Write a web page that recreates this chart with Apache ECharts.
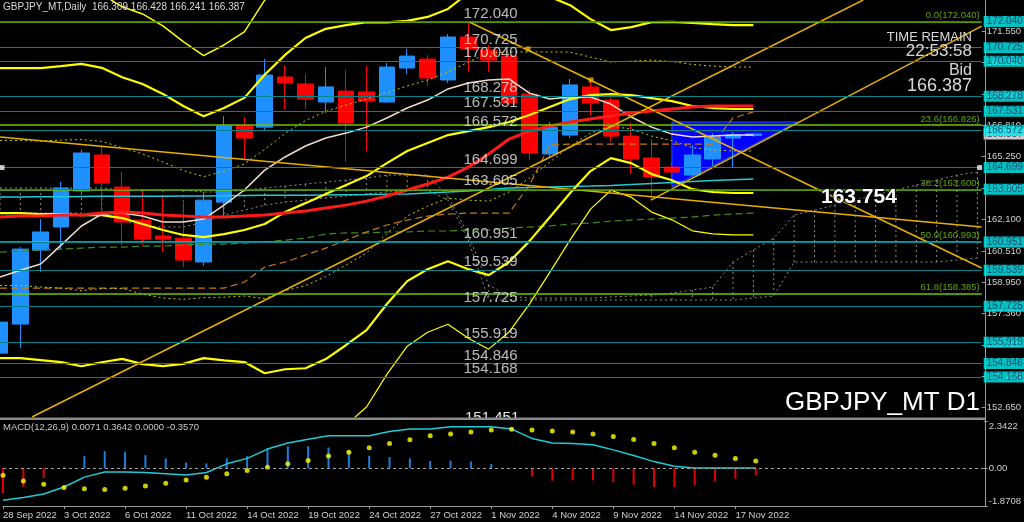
<!DOCTYPE html>
<html><head><meta charset="utf-8">
<script src="https://cdn.jsdelivr.net/npm/echarts@6/dist/echarts.min.js"></script>
<style>html,body{margin:0;padding:0;background:#000;overflow:hidden}#c{width:1024px;height:522px}</style>
</head><body><div id="c"></div>
<script>
const dates = ['28 Sep 2022','29 Sep 2022','30 Sep 2022','3 Oct 2022','4 Oct 2022','5 Oct 2022','6 Oct 2022','7 Oct 2022','10 Oct 2022','11 Oct 2022','12 Oct 2022','13 Oct 2022','14 Oct 2022','17 Oct 2022','18 Oct 2022','19 Oct 2022','20 Oct 2022','21 Oct 2022','24 Oct 2022','25 Oct 2022','26 Oct 2022','27 Oct 2022','28 Oct 2022','31 Oct 2022','1 Nov 2022','2 Nov 2022','3 Nov 2022','4 Nov 2022','7 Nov 2022','8 Nov 2022','9 Nov 2022','10 Nov 2022','11 Nov 2022','14 Nov 2022','15 Nov 2022','16 Nov 2022','17 Nov 2022','18 Nov 2022'];
const open  = [155.37,156.83,160.55,161.71,163.52,165.33,163.72,162.06,161.26,161.15,159.95,162.96,166.79,166.73,169.25,168.90,167.99,168.54,168.50,167.99,169.70,170.15,169.10,171.26,170.61,170.30,168.39,165.38,166.33,168.75,168.09,166.28,165.18,164.72,164.32,165.13,166.18,166.309];
const high  = [157.20,160.70,162.11,163.97,165.58,165.73,164.47,163.47,163.22,163.06,163.37,167.29,167.24,170.15,169.85,169.40,169.75,169.60,169.80,169.95,170.66,170.35,171.41,172.04,170.86,170.45,168.60,166.99,169.15,169.15,168.29,166.95,166.13,165.00,165.83,166.43,166.48,166.428];
const low   = [154.90,155.62,159.45,160.60,163.35,162.46,160.79,160.80,160.45,159.70,159.75,162.31,165.08,166.58,167.64,167.64,167.44,164.98,165.48,167.95,169.40,168.80,168.95,169.50,169.50,167.85,165.08,165.23,166.18,167.34,165.98,164.37,163.17,163.90,164.20,164.77,164.72,166.241];
const close = [156.93,160.60,161.46,163.67,165.43,163.92,161.96,161.10,161.10,160.05,163.06,166.79,166.18,169.35,168.95,168.14,168.75,166.94,168.04,169.75,170.30,169.20,171.26,170.66,170.10,167.94,165.43,166.73,168.85,167.94,166.28,165.13,164.22,164.47,165.33,166.23,166.33,166.387];

const maRed   = [162.21,162.26,162.26,162.31,162.31,162.41,162.46,162.41,162.31,162.26,162.21,162.21,162.26,162.31,162.41,162.51,162.66,162.81,163.01,163.27,163.57,163.87,164.22,164.72,165.38,166.13,166.53,166.79,166.99,167.14,167.29,167.44,167.54,167.64,167.74,167.79,167.79,167.79];
const maWhite = [159.19,159.54,159.85,160.80,161.76,162.36,162.41,162.26,161.96,161.96,162.11,162.81,163.57,164.57,165.23,165.78,166.18,166.43,166.73,167.19,167.69,168.09,168.65,168.95,169.10,169.15,168.44,168.14,168.24,168.24,167.89,167.24,166.73,166.38,166.23,166.28,166.33,166.33];
const maCyan  = [163.22,163.22,163.23,163.23,163.24,163.25,163.25,163.26,163.26,163.27,163.27,163.28,163.29,163.30,163.30,163.31,163.32,163.33,163.34,163.36,163.37,163.42,163.47,163.52,163.60,163.67,163.70,163.72,163.75,163.77,163.80,163.85,163.90,163.95,164.00,164.05,164.09,164.12];
const maGreen = [160.45,160.50,160.55,160.60,160.65,160.70,160.70,160.75,160.75,160.80,160.85,160.85,160.90,160.95,161.05,161.15,161.36,161.41,161.41,161.46,161.46,161.51,161.51,161.56,161.56,161.66,161.71,161.76,161.86,161.91,162.01,162.06,162.11,162.16,162.21,162.31,162.36,162.41];
const kijun   = [158.64,158.64,158.64,158.64,158.64,158.64,158.64,158.64,158.64,158.64,158.64,158.64,158.94,159.70,159.95,160.30,160.65,161.05,161.46,161.81,162.06,162.26,162.36,162.41,162.41,162.41,163.82,165.83,165.88,165.88,165.88,165.88,165.88,165.88,165.88,165.88,167.19,167.49];

const bbU3  = [173.35,173.35,173.37,173.52,173.71,173.41,172.78,172.42,171.82,171.03,170.32,170.86,171.52,173.11,174.31,175.36,175.82,175.88,175.88,175.54,175.34,175.44,175.84,176.94,177.89,177.55,176.85,176.05,175.22,174.07,173.22,173.47,173.92,174.01,174.06,174.02,173.97,173.97];
const bbU2  = [169.70,169.70,169.70,169.80,169.91,169.71,169.24,168.90,168.40,167.79,167.28,167.69,168.20,169.36,170.36,171.21,171.67,171.86,172.01,172.00,172.07,172.27,172.67,173.47,174.17,174.03,173.68,173.28,172.86,172.16,171.61,171.76,172.01,172.02,171.97,171.91,171.86,171.86];
const bbU1  = [166.06,166.06,166.03,166.08,166.11,166.01,165.70,165.38,164.98,164.55,164.24,164.52,164.88,165.61,166.41,167.06,167.52,167.84,168.14,168.46,168.80,169.10,169.50,170.00,170.45,170.51,170.51,170.51,170.50,170.25,170.00,170.05,170.10,170.03,169.88,169.80,169.75,169.75];
const bbMid = [162.41,162.41,162.36,162.36,162.31,162.31,162.16,161.86,161.56,161.31,161.20,161.35,161.56,161.86,162.46,162.91,163.37,163.82,164.27,164.92,165.53,165.93,166.33,166.53,166.73,166.99,167.34,167.74,168.14,168.34,168.39,168.34,168.19,168.04,167.79,167.69,167.64,167.64];
const bbL1  = [158.77,158.77,158.69,158.64,158.51,158.61,158.62,158.34,158.14,158.07,158.16,158.18,158.24,158.11,158.51,158.76,159.22,159.80,160.40,161.38,162.26,162.76,163.16,163.06,163.01,163.47,164.17,164.97,165.78,166.43,166.78,166.63,166.28,166.05,165.70,165.58,165.53,165.53];
const bbL2  = [155.12,155.12,155.02,154.92,154.71,154.91,155.08,154.82,154.72,154.83,155.12,155.01,154.92,154.36,154.56,154.61,155.07,155.78,156.53,157.84,158.99,159.59,159.99,159.59,159.29,159.95,161.00,162.20,163.42,164.52,165.17,164.92,164.37,164.06,163.61,163.47,163.42,163.42];
const bbL3  = [151.48,151.48,151.35,151.20,150.91,151.21,151.54,151.30,151.30,151.59,152.08,151.84,151.60,150.61,150.61,150.46,150.92,151.76,152.66,154.30,155.72,156.42,156.82,156.12,155.57,156.43,157.83,159.43,161.06,162.61,163.56,163.21,162.46,162.07,161.52,161.36,161.31,161.31];

const spanA = [163.67,163.67,163.67,163.67,163.67,163.67,163.57,163.57,163.57,163.57,163.47,163.47,163.57,163.67,163.77,163.87,163.97,164.07,164.17,164.32,164.32,164.32,163.27,161.31,158.79,158.24,158.14,158.14,158.14,158.14,158.19,158.24,158.29,158.39,158.54,158.69,159.95,160.55,161.15,162.31,162.56,162.81,163.06,163.32,163.57,163.82,164.07,164.32,164.47];
const spanB = [162.41,162.41,162.41,162.41,162.41,162.31,162.06,161.76,161.71,161.71,161.96,162.31,162.56,162.81,162.96,163.06,163.17,163.27,163.37,163.47,163.52,163.57,163.06,161.05,158.04,158.04,158.04,158.04,158.04,158.04,158.04,158.04,158.04,158.04,158.04,158.04,158.04,158.14,158.24,159.95,159.95,159.95,159.95,159.95,159.95,159.95,159.95,160.05,160.15];

const macdHist   = [-1.23,-0.93,-0.49,0.05,0.60,0.85,0.82,0.65,0.49,0.28,0.24,0.49,0.60,0.98,1.09,1.09,1.03,0.87,0.62,0.56,0.49,0.36,0.38,0.33,0.21,0.02,-0.41,-0.62,-0.60,-0.60,-0.69,-0.82,-0.93,-0.93,-0.85,-0.65,-0.52,-0.357];
const macdDots   = [-0.35,-0.63,-0.79,-0.96,-1.02,-1.05,-0.99,-0.88,-0.74,-0.58,-0.44,-0.27,-0.11,0.05,0.22,0.38,0.61,0.79,1.02,1.23,1.41,1.61,1.70,1.80,1.89,1.93,1.89,1.85,1.80,1.70,1.57,1.43,1.23,1.02,0.79,0.64,0.48,0.3642];
const macdLine   = [-1.58,-1.45,-1.28,-0.93,-0.44,-0.19,-0.19,-0.21,-0.27,-0.34,-0.21,0.22,0.49,0.95,1.25,1.44,1.61,1.61,1.61,1.82,1.94,1.94,2.06,2.06,2.06,1.94,1.48,1.25,1.23,1.17,0.91,0.63,0.33,0.10,0.01,0.01,0.01,0.0071];

const levelValues = [172.040,170.725,170.040,168.278,167.531,166.572,164.699,163.605,160.951,159.539,157.725,155.919,154.846,154.168];
const fibValues = [172.040,166.826,163.600,160.993,158.385];
const fibNames  = ['0.0','23.6','38.2','50.0','61.8'];
const priceTicks = [171.550,169.980,168.400,166.810,165.250,163.670,162.100,160.510,158.950,157.360,155.790,154.210,152.650];
const macdTicks = [-1.8708,0,2.3422];
const dateTicks = [0,3,6,9,12,15,18,21,24,27,30,33,36];
const bidPrice = 166.387;
const anchorLevel = 164.699;
const trendLines = [
  [[1.57,152.16],[42.39,173.12]],
  [[31.96,163.06],[48.21,171.81]],
  [[23,172.04],[48.21,159.65]],
  [[0,166.23],[48.21,161.71]]
];
const trendMarks = [[25.94,170.66],[29.03,169.10]];
const triangle = [[33.0,166.99],[39.16,166.99],[33.0,163.72]];

const X_MAX = 48.21;
const FONT = 'Liberation Sans, Arial, sans-serif';
const chart = echarts.init(document.getElementById('c'), null, {renderer:'canvas'});
const idx = a => a.map((v,i)=>[i,v]);
function lineS(data, color, width, type, z){
  return {type:'line', xAxisIndex:0, yAxisIndex:0, data: idx(data), showSymbol:false, symbol:'none', silent:true, z: z||4,
    lineStyle:{color, width, type: type||'solid'}, animation:false, clip:true};
}
const series = [];
series.push({type:'custom', xAxisIndex:0, yAxisIndex:0, z:1, silent:true, clip:true,
  data: spanA.map((a,i)=>[i,a,spanB[i]]),
  renderItem:(params, api)=>{
    const p1 = api.coord([api.value(0), api.value(1)]);
    const p2 = api.coord([api.value(0), api.value(2)]);
    if (Math.abs(p1[1]-p2[1]) < 4) return null;
    return {type:'line', shape:{x1:p1[0],y1:p1[1],x2:p2[0],y2:p2[1]}, style:{stroke:'#8c8c8c', lineWidth:1, lineDash:[2,3]}};
  }});
series.push(lineS(spanA,'#8c8c8c',1,[2,3],1));
series.push(lineS(spanB,'#8c8c8c',1,[2,3],1));
series.push({type:'custom', xAxisIndex:0, yAxisIndex:0, z:1, silent:true, data:[[0]],
  renderItem:(params, api)=>({type:'polygon', shape:{points: triangle.map(p=>api.coord(p))}, style:{fill:'#0000FF', stroke:'#3050FF', lineWidth:1}})});
series.push({type:'candlestick', xAxisIndex:0, yAxisIndex:0, z:3, silent:true, barWidth:16,
  data: open.map((o,i)=>[i,o,close[i],low[i],high[i]]), encode:{x:0, y:[1,2,3,4]},
  itemStyle:{color:'#1E90FF', color0:'#FF0000', borderColor:'#1E90FF', borderColor0:'#FF0000', borderWidth:1}, animation:false});
series.push(lineS(maGreen,'#3E8E1E',1.2,[7,4]));
series.push(lineS(kijun,'#C87814',1.2,[7,4]));
series.push(lineS(maCyan,'#1ECBD6',1.5));
series.push(lineS(bbU1,'#C8C800',1,[2,3]));
series.push(lineS(bbL1,'#C8C800',1,[2,3]));
series.push(lineS(bbU3,'#FFFF00',1.5));
series.push(lineS(bbL3,'#FFFF00',1.2));
series.push(lineS(bbU2,'#FFFF00',2.2));
series.push(lineS(bbL2,'#FFFF00',2.2));
series.push(lineS(bbMid,'#FFFF00',2.2));
series.push(lineS(maWhite,'#F0DCCB',1.5));
series.push(lineS(maRed,'#FF1A1A',3));
trendLines.forEach(t=>{
  series.push({type:'line', xAxisIndex:0, yAxisIndex:0, data:t, showSymbol:false, symbol:'none', silent:true, z:4, clip:true,
    lineStyle:{color:'#E6B000', width:1.5}, animation:false});
});
series.push({type:'scatter', xAxisIndex:0, yAxisIndex:0, data:trendMarks, symbol:'rect', symbolSize:5, itemStyle:{color:'#E6B000'}, z:5, silent:true});
series.push({type:'scatter', xAxisIndex:0, yAxisIndex:0, data:[[0.1,anchorLevel],[X_MAX-0.1,anchorLevel]], symbol:'rect', symbolSize:5, itemStyle:{color:'#E8F8FF'}, z:8, silent:true, clip:false});
series.push({type:'scatter', xAxisIndex:0, yAxisIndex:0, z:6, symbolSize:0, silent:true, clip:false,
  data: fibValues.map(v=>[X_MAX,v]),
  label:{show:true, position:'left', distance:2, offset:[0,-6], formatter:p=>fibNames[p.dataIndex]+'('+p.value[1].toFixed(3)+')', color:'#7CCB00', fontSize:9.5, fontFamily:FONT},
  markLine:{silent:true, symbol:['none','none'], label:{show:false}, animation:false, lineStyle:{color:'#6EC400', width:1.5, type:'solid'}, data: fibValues.map(v=>({yAxis:v}))}});
series.push({type:'scatter', xAxisIndex:0, yAxisIndex:0, z:6, symbolSize:0, silent:true, clip:false,
  data: [[X_MAX,bidPrice]],
  label:{show:true, position:'right', distance:2, formatter:p=>p.value[1].toFixed(3), backgroundColor:'#FFFFFF', color:'#1A2B5C', fontSize:10, fontFamily:FONT, padding:[1,2,0,3]}});
series.push({type:'scatter', xAxisIndex:0, yAxisIndex:0, z:7, symbolSize:0, silent:true, clip:false,
  data: levelValues.map(v=>[X_MAX,v]),
  label:{show:true, position:'right', distance:2, formatter:p=>p.value[1].toFixed(3), backgroundColor:'#00F0F0', color:'#1A2B5C', fontSize:10, fontFamily:FONT, padding:[1,2,0,3]},
  markLine:{silent:true, symbol:['none','none'], label:{show:false}, animation:false, lineStyle:{color:'#00868A', width:1, type:'solid'}, data: levelValues.map(v=>({yAxis:v}))}});
series.push({type:'scatter', xAxisIndex:0, yAxisIndex:0, z:7, symbolSize:0, silent:true, clip:true,
  data: levelValues.map(v=>[22.76,v]),
  label:{show:true, position:'right', distance:0, offset:[0,-8], formatter:p=>p.value[1].toFixed(3), color:'#E6E6E6', fontSize:15, fontFamily:FONT}});
series.push({type:'bar', xAxisIndex:1, yAxisIndex:1, data: idx(macdHist), barWidth:2, silent:true, z:2,
  itemStyle:{color:p=>p.value[1]>=0?'#1C7FE0':'#E00000'},
  markLine:{silent:true, symbol:['none','none'], label:{show:false}, animation:false, lineStyle:{color:'#A0A0A0', width:1, type:[3,3]}, data:[{yAxis:0}]}});
series.push({type:'line', xAxisIndex:1, yAxisIndex:1, data: idx(macdLine), showSymbol:false, symbol:'none', silent:true, z:3, lineStyle:{color:'#1ECBD6', width:1.5}});
series.push({type:'scatter', xAxisIndex:1, yAxisIndex:1, data: idx(macdDots), symbolSize:5, itemStyle:{color:'#FFFF00'}, silent:true, z:4});

const option = {
  backgroundColor:'#000000',
  animation:false,
  grid:[{left:0, top:0, width:985, height:417},{left:0, top:421, width:985, height:85}],
  xAxis:[
    {type:'value', gridIndex:0, min:0, max:X_MAX, show:false},
    {type:'value', gridIndex:1, min:0, max:X_MAX, splitLine:{show:false}, position:'bottom',
     axisLine:{show:true, onZero:false, lineStyle:{color:'#9A9A9A', width:1}},
     axisTick:{show:true, customValues:dateTicks, length:3, lineStyle:{color:'#9A9A9A'}},
     axisLabel:{customValues:dateTicks, formatter:v=>dates[v]||'', align:'left', color:'#CFCFCF', fontSize:9.5, fontFamily:FONT, margin:4}}
  ],
  yAxis:[
    {type:'value', gridIndex:0, position:'right', min:152.16, max:173.12, splitLine:{show:false}, axisLine:{show:false, onZero:false},
     axisTick:{show:true, customValues:priceTicks, length:4, lineStyle:{color:'#9A9A9A'}},
     axisLabel:{customValues:priceTicks, formatter:v=>v.toFixed(3), color:'#CFCFCF', fontSize:9.5, fontFamily:FONT, margin:5}},
    {type:'value', gridIndex:1, position:'right', min:-1.8708, max:2.3422, splitLine:{show:false}, axisLine:{show:false, onZero:false},
     axisTick:{show:true, customValues:macdTicks, length:4, lineStyle:{color:'#9A9A9A'}},
     axisLabel:{customValues:macdTicks, formatter:v=>v===0?'0.00':String(v), color:'#CFCFCF', fontSize:9.5, fontFamily:FONT, margin:5, verticalAlignMaxLabel:'top', verticalAlignMinLabel:'bottom'}}
  ],
  series,
  graphic:[
    {type:'text', z:0, left:465, top:410, style:{text:'151.451', fill:'#E6E6E6', font:'15px '+FONT}},
    {type:'rect', z:1, shape:{x:455, y:418, width:80, height:16}, style:{fill:'#000'}},
    {type:'rect', z:100, shape:{x:0, y:417.5, width:986, height:2.5}, style:{fill:'#8A8A8A'}},
    {type:'line', z:100, shape:{x1:985.5, y1:0, x2:985.5, y2:507}, style:{stroke:'#9A9A9A', lineWidth:1}},
    {type:'text', z:100, left:3, top:2, style:{text:'GBPJPY_MT,Daily  166.309 166.428 166.241 166.387', fill:'#D8D8D8', font:'10px '+FONT}},
    {type:'text', z:100, left:3, top:422, style:{text:'MACD(12,26,9) 0.0071 0.3642 0.0000 -0.3570', fill:'#C8C8C8', font:'9.5px '+FONT}},
    {type:'text', z:100, right:52, top:31, style:{text:'TIME REMAIN', fill:'#D8D8D8', font:'13px '+FONT, textAlign:'right'}},
    {type:'text', z:100, right:52, top:43, style:{text:'22:53:58', fill:'#D8D8D8', font:'17px '+FONT, textAlign:'right'}},
    {type:'text', z:100, right:52, top:63, style:{text:'Bid', fill:'#D8D8D8', font:'16px '+FONT, textAlign:'right'}},
    {type:'text', z:100, right:52, top:77, style:{text:'166.387', fill:'#D8D8D8', font:'18px '+FONT, textAlign:'right'}},
    {type:'text', z:100, left:820, top:186, style:{text:'163.754', fill:'#FFFFFF', font:'bold 21px '+FONT, stroke:'#000', lineWidth:2}},
    {type:'text', z:100, left:785, top:390, style:{text:'GBPJPY_MT D1', fill:'#FFFFFF', font:'26px '+FONT}}
  ]
};
chart.setOption(option);
</script>
</body></html>
